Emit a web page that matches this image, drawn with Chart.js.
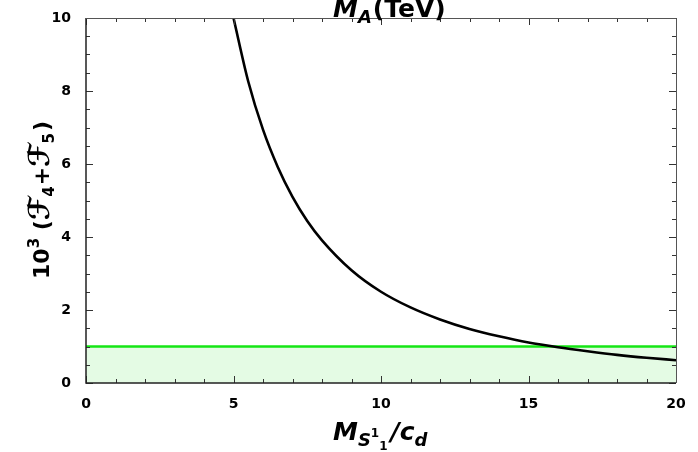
<!DOCTYPE html>
<html><head><meta charset="utf-8">
<script src="https://cdn.jsdelivr.net/npm/chart.js@4"></script>
<style>html,body{margin:0;padding:0;background:#fff}#wrap{width:698px;height:452px}</style>
</head><body><div id="wrap"><canvas id="c" width="698" height="452"></canvas></div>
<script>
const xValues = [5, 5.5, 6, 6.5, 7, 7.5, 8, 9, 10, 11, 12, 13, 14, 15, 16, 17, 18, 19, 20];
const curveValues = [10, 8.26, 6.94, 5.92, 5.10, 4.44, 3.91, 3.09, 2.5, 2.07, 1.74, 1.48, 1.28, 1.11, 0.98, 0.87, 0.77, 0.69, 0.625];
const boundX = [0, 20];
const boundY = [1, 1];
const xTicks = [0, 5, 10, 15, 20];
const yTicks = [0, 2, 4, 6, 8, 10];

const FONT = '"DejaVu Sans", "Liberation Sans", sans-serif';

function drawRich(ctx, parts, x, y, align) {
  let total = 0;
  for (const p of parts) {
    ctx.font = (p[3] ? 'italic ' : '') + 'bold ' + p[1] + 'px ' + FONT;
    p.w = ctx.measureText(p[0]).width + (p[4] || 0);
    total += p.w;
  }
  let cx = align === 'center' ? x - total / 2 : x;
  ctx.textAlign = 'left';
  ctx.textBaseline = 'alphabetic';
  for (const p of parts) {
    ctx.font = (p[3] ? 'italic ' : '') + 'bold ' + p[1] + 'px ' + FONT;
    ctx.fillText(p[0], cx, y + p[2]);
    cx += p.w;
  }
}

const decor = {
  id: 'decor',
  afterDraw(chart) {
    const ctx = chart.ctx;
    const xs = chart.scales.x, ys = chart.scales.y;
    const L = xs.left, R = xs.right, T = ys.top, B = ys.bottom;
    ctx.save();
    ctx.strokeStyle = '#333';
    ctx.lineWidth = 1;
    ctx.beginPath();
    for (let v = 0; v <= 20; v += 1) {
      const px = Math.round(xs.getPixelForValue(v)) + 0.5;
      const len = v % 5 === 0 ? 7 : 4;
      ctx.moveTo(px, B); ctx.lineTo(px, B - len);
      ctx.moveTo(px, T); ctx.lineTo(px, T + len);
    }
    for (let v = 0; v <= 10.001; v += 0.5) {
      const py = Math.round(ys.getPixelForValue(v)) + 0.5;
      const len = Math.abs(v % 2) < 1e-6 ? 7 : 4;
      ctx.moveTo(L, py); ctx.lineTo(L + len, py);
      ctx.moveTo(R, py); ctx.lineTo(R - len, py);
    }
    ctx.stroke();
    ctx.strokeStyle = '#222';
    ctx.lineWidth = 1.5;
    ctx.beginPath();
    ctx.moveTo(L, T); ctx.lineTo(L, B); ctx.lineTo(R, B);
    ctx.stroke();
    ctx.strokeStyle = '#555';
    ctx.lineWidth = 1;
    ctx.beginPath();
    ctx.moveTo(L, T + 0.5); ctx.lineTo(R + 0.5, T + 0.5); ctx.lineTo(R + 0.5, B);
    ctx.stroke();

    ctx.fillStyle = '#000';
    drawRich(ctx, [['M', 25, 0, true, 0], ['A', 18, 6, true, 1], ['(TeV)', 25, 0, false]], 333, 17, 'left');
    drawRich(ctx, [['M', 25, 0, true, 0], ['S', 18, 6, true, 0], ['1', 12, -3, false], ['1', 12, 10, false, 3], ['/c', 25, 0, true, 0], ['d', 18, 6, true]], 333, 440, 'left');
    ctx.translate(49, 200);
    ctx.rotate(-Math.PI / 2);
    drawRich(ctx, [['10', 22, 0, false], ['3', 15, -10, false], [' (', 22, 0, false], ['\u2131', 29, 0, true], ['4', 15, 5, false, 1], ['+', 22, 0, false], ['\u2131', 29, 0, true], ['5', 15, 5, false, 2], [')', 22, 0, false]], 0, 0, 'center');
    ctx.restore();
  }
};

new Chart(document.getElementById('c'), {
  type: 'scatter',
  data: {
    datasets: [
      {
        data: xValues.map((x, i) => ({x, y: curveValues[i]})),
        showLine: true, borderColor: '#000', borderWidth: 2.6,
        pointRadius: 0, cubicInterpolationMode: 'monotone', fill: false, order: 0
      },
      {
        data: boundX.map((x, i) => ({x, y: boundY[i]})),
        showLine: true, borderColor: '#14e614', borderWidth: 2.6,
        backgroundColor: '#e4fbe4', fill: 'origin', pointRadius: 0, order: 1
      }
    ]
  },
  options: {
    responsive: false, animation: false,
    layout: {padding: {top: 18, right: 22, left: 0, bottom: 0}},
    plugins: {legend: {display: false}, tooltip: {enabled: false}},
    scales: {
      x: {
        type: 'linear', min: 0, max: 20,
        afterBuildTicks: s => { s.ticks = xTicks.map(v => ({value: v})); },
        afterFit: s => { s.height = 69; },
        grid: {display: false}, border: {display: false},
        ticks: {color: '#000', font: {family: FONT, size: 14, weight: 'bold'}, padding: 5, maxRotation: 0}
      },
      y: {
        type: 'linear', min: 0, max: 10,
        afterBuildTicks: s => { s.ticks = yTicks.map(v => ({value: v})); },
        afterFit: s => { s.width = 86; },
        grid: {display: false}, border: {display: false},
        ticks: {color: '#000', font: {family: FONT, size: 14, weight: 'bold'}, padding: 7}
      }
    }
  },
  plugins: [decor]
});
</script></body></html>
